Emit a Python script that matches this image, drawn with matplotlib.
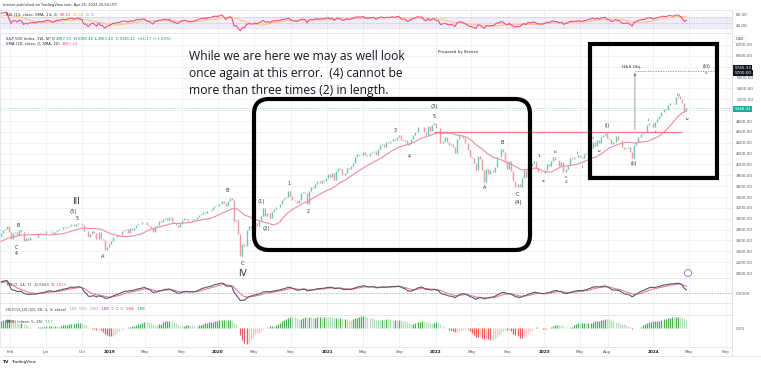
import numpy as np
import pandas as pd
import matplotlib
matplotlib.use("Agg")
import matplotlib.pyplot as plt
from matplotlib.patches import FancyBboxPatch, Rectangle, Circle

# S&P 500 weekly closes (Friday), read off the chart / approximated
closes_2017 = [2399.29, 2390.90, 2381.73, 2415.82, 2439.07, 2431.77, 2433.15, 2438.30, 2423.41,
               2425.18, 2459.27, 2472.54, 2472.10, 2476.83, 2441.32, 2425.55, 2443.05,
               2476.55, 2461.43, 2500.23, 2502.22, 2519.36, 2549.33, 2553.17, 2575.21, 2581.07,
               2587.84, 2582.30, 2578.85, 2602.42, 2642.22, 2651.50, 2675.81, 2683.34, 2673.61]
closes_2018 = [2743.15, 2786.24, 2810.30, 2872.87, 2762.13, 2619.55, 2732.22, 2747.30, 2691.25,
               2786.57, 2752.01, 2588.26, 2640.87, 2604.47, 2656.30, 2670.14, 2669.91, 2663.42,
               2727.72, 2712.97, 2721.33, 2734.62, 2779.03, 2779.66, 2754.88, 2718.37, 2759.82,
               2801.31, 2801.83, 2818.82, 2840.35, 2833.28, 2850.13, 2874.69, 2901.52, 2871.68,
               2904.98, 2929.67, 2913.98, 2885.57, 2767.13, 2767.78, 2658.69, 2723.06, 2781.01,
               2736.27, 2632.56, 2760.17, 2633.08, 2599.95, 2416.62, 2485.74]
closes_2019 = [2531.94, 2596.26, 2670.71, 2664.76, 2706.53, 2707.88, 2775.60, 2792.67, 2803.69,
               2743.07, 2822.48, 2800.71, 2834.40, 2892.74, 2907.41, 2905.03, 2939.88, 2945.64,
               2881.40, 2859.53, 2826.06, 2752.06, 2873.34, 2886.98, 2950.46, 2941.76, 2990.41,
               3013.77, 2976.61, 3025.86, 2932.05, 2918.65, 2888.68, 2847.11, 2926.46, 2978.71,
               3007.39, 2992.07, 2961.79, 2952.01, 2970.27, 2986.20, 3022.55, 3066.91, 3093.08,
               3120.46, 3110.29, 3140.98, 3145.91, 3168.80, 3221.22, 3240.02]
closes_2020 = [3234.85, 3265.35, 3329.62, 3295.47, 3225.52, 3327.71, 3380.16, 3337.75, 2954.22,
               2972.37, 2711.02, 2304.92, 2541.47, 2488.65, 2789.82, 2874.56, 2836.74, 2830.71,
               2929.80, 2863.70, 2955.45, 3044.31, 3193.93, 3041.31, 3097.74, 3009.05, 3130.01,
               3185.04, 3224.73, 3215.63, 3271.12, 3351.28, 3372.85, 3397.16, 3508.01, 3426.96,
               3340.97, 3319.47, 3298.46, 3348.44, 3477.13, 3483.81, 3465.39, 3269.96, 3509.44,
               3585.15, 3557.54, 3638.35, 3699.12, 3663.46, 3709.41, 3703.06, 3756.07]
closes_2021 = [3824.68, 3768.25, 3841.47, 3714.24, 3886.83, 3934.83, 3906.71, 3811.15, 3841.94,
               3943.34, 3913.10, 3974.54, 4019.87, 4128.80, 4185.47, 4180.17, 4181.17, 4232.60,
               4173.85, 4155.86, 4204.11, 4229.89, 4247.44, 4166.45, 4280.70, 4352.34, 4369.55,
               4327.16, 4411.79, 4395.26, 4436.52, 4468.00, 4441.67, 4509.37, 4535.43, 4458.58,
               4432.99, 4455.48, 4357.04, 4391.34, 4471.37, 4544.90, 4605.38, 4697.53, 4682.85,
               4697.96, 4594.62, 4538.43, 4712.02, 4620.64, 4725.79, 4766.18]
closes_2022 = [4677.03, 4662.85, 4397.94, 4431.85, 4500.53, 4418.64, 4348.87, 4384.65, 4328.87,
               4204.31, 4463.12, 4543.06, 4545.86, 4488.28, 4392.59, 4271.78, 4131.93, 4123.34,
               4023.89, 3901.36, 4158.24, 4108.54, 3900.86, 3674.84, 3911.74, 3825.33, 3899.38,
               3863.16, 3961.63, 4130.29, 4145.19, 4280.15, 4228.48, 4057.66, 3924.26, 4067.36,
               3873.33, 3693.23, 3585.62, 3639.66, 3583.07, 3752.75, 3901.06, 3770.55, 3992.93,
               3965.34, 4026.12, 4071.70, 3934.38, 3852.36, 3844.82, 3839.50]
closes_2023 = [3895.08, 3999.09, 3972.61, 4070.56, 4136.48, 4090.46, 4079.09, 3970.04, 4045.64,
               3861.59, 3916.64, 3970.99, 4109.31, 4105.02, 4137.64, 4133.52, 4169.48, 4136.25,
               4124.08, 4191.98, 4205.45, 4282.37, 4298.86, 4409.59, 4348.33, 4450.38, 4398.95,
               4505.42, 4536.34, 4582.23, 4478.03, 4464.05, 4369.71, 4405.71, 4515.77, 4457.49,
               4450.32, 4320.06, 4288.05, 4308.50, 4327.78, 4224.16, 4117.37, 4358.34, 4415.24,
               4514.02, 4559.34, 4594.63, 4604.37, 4719.19, 4754.63, 4769.83]
closes_2024 = [4697.24, 4783.83, 4839.81, 4890.97, 4958.61, 5026.61, 5005.57, 5088.80, 5137.08,
               5123.69, 5117.09, 5234.18, 5254.35, 5204.34, 5123.41, 4967.23, 5048.41]
last_open = 4987.33

closes = (closes_2017 + closes_2018 + closes_2019 + closes_2020 + closes_2021
          + closes_2022 + closes_2023 + closes_2024)
fridays = pd.date_range("2017-05-05", periods=len(closes), freq="W-FRI")
dates = fridays - pd.Timedelta(days=4)

df = pd.DataFrame({"close": closes}, index=dates)
df["open"] = df["close"].shift(1).fillna(df["close"])
df.iloc[-1, df.columns.get_loc("open")] = last_open
df["sma20"] = df["close"].rolling(20, min_periods=1).mean()

# RSI 14 + SMA 14
delta = df["close"].diff()
up = delta.clip(lower=0).ewm(alpha=1 / 14, adjust=False).mean()
dn = (-delta.clip(upper=0)).ewm(alpha=1 / 14, adjust=False).mean()
df["rsi"] = 100 - 100 / (1 + up / dn)
df["rsi_ma"] = df["rsi"].rolling(14, min_periods=1).mean()

# TSI (7, 14, 7)
def dsmooth(s):
    return s.ewm(span=7, adjust=False).mean().ewm(span=14, adjust=False).mean()
df["tsi"] = 100 * dsmooth(delta.fillna(0)) / dsmooth(delta.abs().fillna(0))
df["tsi_sig"] = df["tsi"].ewm(span=7, adjust=False).mean()

# MMO (close, 5, 35) as percent gap of the two averages
sma5 = df["close"].rolling(5, min_periods=1).mean()
sma35 = df["close"].rolling(35, min_periods=1).mean()
df["mmo"] = (sma5 / sma35 - 1) * 100

W, H = 761, 369
fig = plt.figure(figsize=(W / 100, H / 100), dpi=100)
fig.patch.set_facecolor("white")

def rect(x0, y0, x1, y1):
    return [x0 / W, 1 - y1 / H, (x1 - x0) / W, (y1 - y0) / H]

def fx(x, y):
    return x / W, 1 - y / H

ax_rsi = fig.add_axes(rect(0, 10, 732, 33))
ax = fig.add_axes(rect(0, 33, 732, 278))
ax_tsi = fig.add_axes(rect(0, 278, 732, 303))
ax_h = fig.add_axes(rect(0, 303, 732, 315))
ax_m = fig.add_axes(rect(0, 315, 732, 347))
panels = [ax_rsi, ax, ax_tsi, ax_h, ax_m]

xmin, xmax = pd.Timestamp("2017-12-30"), pd.Timestamp("2024-09-22")
tick_dates = ["2018-02-01", "2018-06-01", "2018-10-01", "2019-01-01", "2019-05-01", "2019-09-01",
              "2020-01-01", "2020-05-01", "2020-09-01", "2021-01-01", "2021-05-01", "2021-09-01",
              "2022-01-01", "2022-05-01", "2022-09-01", "2023-01-01", "2023-05-01", "2023-08-01",
              "2024-01-01", "2024-05-01", "2024-09-01"]
tick_labels = ["Feb", "Jun", "Oct", "2019", "May", "Sep", "2020", "May", "Sep", "2021", "May", "Sep",
               "2022", "May", "Sep", "2023", "May", "Aug", "2024", "May", "Sep"]
tick_pos = pd.to_datetime(tick_dates)

grid_c = "#eef0f5"
edge_c = "#e0e3eb"
lab_c = "#555a66"
for a in panels:
    a.set_xlim(xmin, xmax)
    a.set_facecolor("white")
    for s in a.spines.values():
        s.set_color(edge_c)
        s.set_linewidth(0.6)
    a.set_xticks(tick_pos)
    a.tick_params(axis="x", length=0, labelbottom=False)
    a.grid(axis="x", color=grid_c, lw=0.6)
    a.yaxis.tick_right()
    a.tick_params(axis="y", length=0, pad=3, labelsize=3, labelcolor=lab_c)
    a.set_axisbelow(True)

# ---- main price panel
ax.set_ylim(1908, 6421)
price_ticks = np.arange(2000, 6201, 200)
ax.set_yticks(price_ticks)
ax.set_yticklabels(["" if p in (5000, 5800) else f"{p:.2f}" for p in price_ticks])
ax.grid(axis="y", color=grid_c, lw=0.6)

up_c, dn_c = "#6cc5b5", "#f19a9a"
colors = np.where(df["close"] >= df["open"], up_c, dn_c)
lo = np.minimum(df["open"], df["close"])
hi = np.maximum(df["open"], df["close"])
ax.vlines(df.index, lo, hi, colors=colors, lw=1.0)
ax.plot(df.index, df["sma20"], color="#f08aaa", lw=0.8)
ax.axhline(df["close"].iloc[-1], color="#26a69a", ls=":", lw=0.5, alpha=0.6)

# horizontal neckline and H&S objective
ax.hlines(4590, pd.Timestamp("2021-12-27"), pd.Timestamp("2024-04-07"), color="#f07c7c", lw=0.9)
ax.annotate("", xy=(pd.Timestamp("2023-11-01"), 5745), xytext=(pd.Timestamp("2023-11-01"), 4590),
            arrowprops=dict(arrowstyle="-|>", color="#8a8d96", lw=0.6, mutation_scale=4))
ax.hlines(5720, pd.Timestamp("2023-11-01"), pd.Timestamp("2024-08-10"), color="#8a8d96", lw=0.6,
          linestyles=(0, (1.5, 1.5)))

wave_labels = [
    ("B", "2018-03-01", 2866, 3.4), ("C", "2018-02-22", 2479, 3.4), ("4", "2018-02-22", 2368, 3.4),
    ("III", "2018-09-11", 3326, 6.5), ("(5)", "2018-09-01", 3142, 3.8), ("5", "2018-09-14", 3013, 3.4),
    ("A", "2018-12-10", 2313, 3.6), ("B", "2020-01-31", 3511, 3.6), ("C", "2020-03-22", 2166, 3.6),
    ("IV", "2020-03-22", 2000, 6.5), ("(1)", "2020-05-27", 3326, 3.8), ("1", "2020-08-26", 3640, 3.4),
    ("2", "2020-10-29", 3124, 3.4), ("(2)", "2020-06-10", 2829, 3.8), ("3", "2021-08-19", 4616, 3.4),
    ("4", "2021-10-03", 4155, 3.4), ("(3)", "2021-12-26", 5058, 3.8), ("5", "2021-12-26", 4874, 3.4),
    ("B", "2022-08-14", 4395, 3.6), ("A", "2022-06-15", 3566, 3.6), ("C", "2022-10-04", 3437, 3.6),
    ("(4)", "2022-10-04", 3290, 3.8), ("1", "2022-12-13", 4155, 3.2), ("a", "2022-12-27", 3695, 3.2),
    ("b", "2023-02-05", 4229, 3.2), ("c", "2023-03-14", 3768, 3.2), ("2", "2023-03-14", 3676, 3.2),
    ("i", "2023-04-20", 4210, 3.2), ("ii", "2023-05-10", 3953, 3.2), ("iii", "2023-06-13", 4487, 3.2),
    ("iv", "2023-07-06", 4247, 3.2), ("(i)", "2023-07-30", 4726, 3.4), ("(ii)", "2023-10-28", 4008, 3.4),
    ("i", "2023-12-16", 4818, 3.2), ("ii", "2024-01-10", 4597, 3.2), ("iii", "2024-03-25", 5279, 3.2),
    ("iv", "2024-04-27", 4837, 3.2), ("H&S Obj.", "2023-10-21", 5795, 3.2),
    ("(iii)", "2024-06-29", 5795, 3.4), ("v", "2024-06-29", 5684, 3.2),
]
for txt, d, p, fs in wave_labels:
    ax.text(pd.Timestamp(d), p, txt, fontsize=fs, ha="center", va="center", color="#2a2e39")

# ---- RSI panel
ax_rsi.set_ylim(13.5, 97)
ax_rsi.set_yticks([80, 40])
ax_rsi.set_yticklabels(["80.00", "40.00"])
ax_rsi.axhspan(30, 70, color="#7e57c2", alpha=0.1, lw=0)
for lvl in (70, 50, 30):
    ax_rsi.axhline(lvl, color="#b0a4c8", ls=(0, (2, 2)), lw=0.4)
ax_rsi.plot(df.index, df["rsi_ma"], color="#f7c873", lw=0.7)
ax_rsi.plot(df.index, df["rsi"], color="#ee4f86", lw=0.8)

# ---- TSI panel
vis = (df.index >= xmin) & (df.index <= xmax)
tv = pd.concat([df.loc[vis, "tsi"], df.loc[vis, "tsi_sig"]])
span = tv.max() - tv.min()
ax_tsi.set_ylim(tv.min() - 0.12 * span, tv.max() + 0.12 * span)
ax_tsi.set_yticks([0])
ax_tsi.set_yticklabels(["0.0000"])
ax_tsi.axhline(0, color="#9598a1", ls=(0, (2, 2)), lw=0.5)
ax_tsi.plot(df.index, df["tsi_sig"], color="#f07ca0", lw=0.8)
ax_tsi.plot(df.index, df["tsi"], color="#555a66", lw=0.8)

# ---- HCCCO panel (empty)
ax_h.set_yticks([])
ax_h.set_ylim(0, 1)

# ---- MMO histogram
m = df["mmo"]
rising = m.diff() >= 0
hist_c = np.where(m >= 0, np.where(rising, "#4caf50", "#b5dfb6"),
                  np.where(rising, "#ffc2c2", "#f05a5a"))
mn = m[vis].min()
ax_m.set_ylim(mn * 1.2, -mn * 1.2 * 13 / 19)
ax_m.vlines(df.index, 0, m, colors=hist_c, lw=0.9)
ax_m.set_yticks([0])
ax_m.set_yticklabels(["0.00"])

# x labels on the bottom panel
ax_m.tick_params(axis="x", labelbottom=True, labelsize=3, labelcolor=lab_c, pad=2)
ax_m.set_xticklabels(tick_labels)
for lbl in ax_m.get_xticklabels():
    if lbl.get_text().isdigit():
        lbl.set_color("#131722")
        lbl.set_fontweight("bold")

# ---- drawing boxes (in inches so the corners stay round)
box1 = FancyBboxPatch((2.54 + 0.15, 1.19 + 0.15), 5.30 - 2.54 - 0.30, 2.70 - 1.19 - 0.30,
                      boxstyle="round,pad=0.15", transform=fig.dpi_scale_trans,
                      fill=False, ec="black", lw=3.0, zorder=10)
fig.patches.append(box1)
box2 = Rectangle((5.90, 1.91), 7.17 - 5.90, 3.25 - 1.91, transform=fig.dpi_scale_trans,
                 fill=False, ec="black", lw=3.0, zorder=10)
fig.patches.append(box2)
fig.patches.append(Circle((6.88, (H - 273) / 100), 0.035, transform=fig.dpi_scale_trans,
                          fc="white", ec="#b35ad6", lw=0.6, zorder=10))

# ---- texts
note = ["While we are here we may as well look",
        "once again at this error.  (4) cannot be",
        "more than three times (2) in length."]
for i, line in enumerate(note):
    fig.text(*fx(189, 60 + 16.8 * i), line, fontsize=8.7, family="Open Sans", color="#131722",
             va="baseline")
fig.text(*fx(438, 52), "Prepared by Breeze", fontsize=3, color="#2a2e39", va="center")
fig.text(*fx(3, 5), "breeze published on TradingView.com, Apr 25, 2024 20:54 UTC",
         fontsize=2.6, color="#2a2e39", va="center")

renderer = fig.canvas.get_renderer()

def rich(x, y, parts, fs=2.8, gap=2.0):
    for s, c in parts:
        t = fig.text(*fx(x, y), s, fontsize=fs, color=c, va="center")
        x += t.get_window_extent(renderer=renderer).width + gap

dark = "#2a2e39"
teal = "#089981"
rich(6, 15, [("RSI (14, close, SMA, 14, 2)", dark), ("59.13", "#e91e63"), ("21.68", "#f2b135"),
             ("\u2205 \u2205", "#888")])
rich(6, 39, [("S&P 500 Index, 1W, SP", dark), ("O", dark), ("4987.33", teal), ("H", dark),
             ("5088.46", teal), ("L", dark), ("4963.40", teal), ("C", dark), ("5048.41", teal),
             ("+61.17 (+1.63%)", teal)], gap=1.2)
rich(6, 44, [("SMA (20, close, 0, SMA, 20)", dark), ("4887.24", "#ef5b8b")])
rich(6, 285, [("TSI (7, 14, 7)", dark), ("23.6664", "#555a66"), ("45.1654", "#ef5b8b")])
rich(6, 309, [("HCCCO_LR (10, 30, 1, 3, close)", dark), ("1.00", "#999"), ("0.50", "#999"),
              ("0.00", "#999"), ("1.08", "#9c27b0"), ("\u2205 \u2205 \u2205", "#888"),
              ("0.98", "#f23645"), ("1.08", "#089981")])
rich(6, 322, [("MMO (close, 5, 35)", dark), ("7.57", "#4caf50")])

# price axis tags
fig.text(*fx(736, 39), "USD", fontsize=2.8, color=dark, va="center",
         bbox=dict(boxstyle="round,pad=0.4", fc="white", ec=edge_c, lw=0.4))
for y, s in [(68, "5745.33"), (73, "5700.00")]:
    fig.text(*fx(734.5, y), s, fontsize=3, color="white", va="center",
             bbox=dict(boxstyle="square,pad=0.25", fc="#131722", ec="none"))
fig.text(*fx(734.5, 109), "5048.41", fontsize=3, color="white", va="center",
         bbox=dict(boxstyle="square,pad=0.25", fc="#26a69a", ec="none"))

fig.text(*fx(3, 362), "TV", fontsize=3.2, fontweight="bold", color="#131722", va="center")
fig.text(*fx(11, 362), "TradingView", fontsize=3, color="#131722", va="center")

# outer frame lines
fig.add_artist(plt.Line2D([0, 1], [1 - 356 / H] * 2, color=edge_c, lw=0.6))
fig.add_artist(plt.Line2D([732 / W] * 2, [1 - 356 / H, 1 - 10 / H], color=edge_c, lw=0.6))

fig.savefig("out.png", dpi=100)
